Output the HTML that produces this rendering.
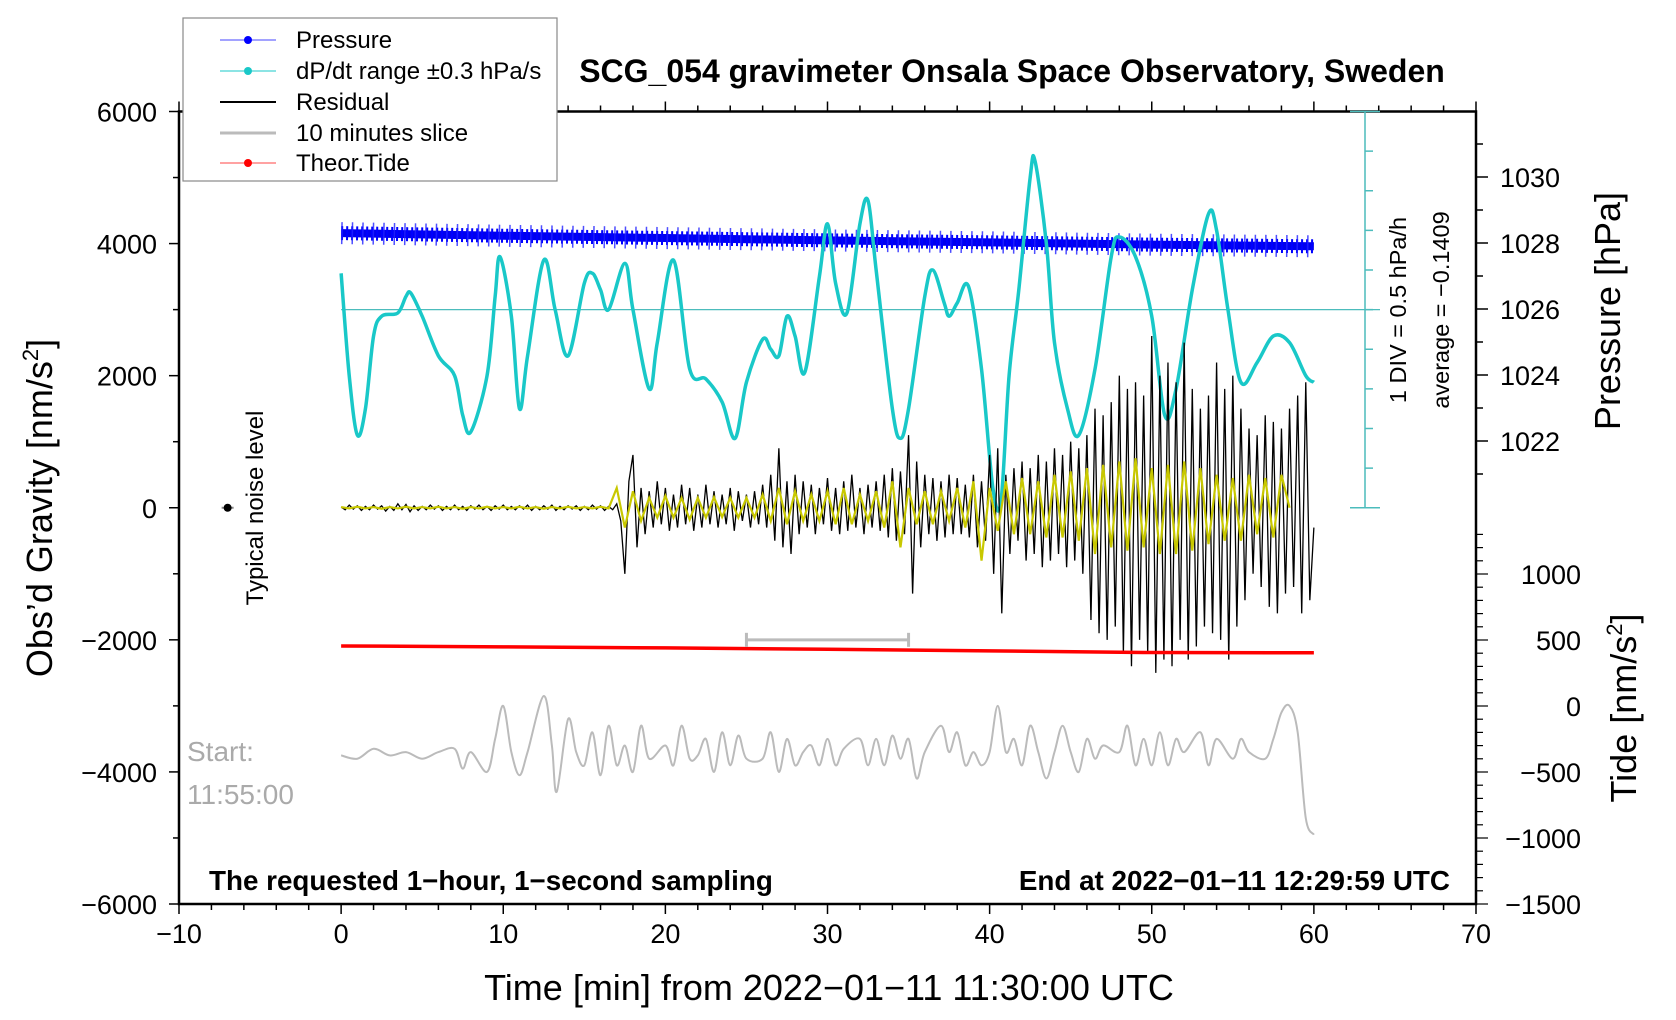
<!DOCTYPE html>
<html><head><meta charset="utf-8"><style>
html,body{margin:0;padding:0;background:#fff;}
svg{display:block;font-family:"Liberation Sans",sans-serif;}
</style></head><body>
<svg id="chart" width="1676" height="1020" viewBox="0 0 1676 1020" xmlns="http://www.w3.org/2000/svg">
<g id="layer"></g>
</svg>
<script>
// ---- data ----
const xTicks=[-10,0,10,20,30,40,50,60,70];
const yTicks=[6000,4000,2000,0,-2000,-4000,-6000];
const pTicks=[1022,1024,1026,1028,1030];
const tideTicks=[1000,500,0,-500,-1000,-1500];
const cyanT=[0,0.5,1,1.5,2,2.5,3.5,4,4.3,5,6,7,7.5,8,9,9.5,9.8,10.5,11,11.5,12.5,13.2,14,15,15.5,16,16.5,17.5,18,19,19.5,20.5,21.5,22.5,23.5,24.3,25,26,26.5,27,27.5,28,28.6,29.5,30,30.5,31.2,32,32.5,33,34,34.5,35,36,36.5,37.2,37.5,38,38.7,39.5,40.2,40.7,41.2,41.8,42.5,42.8,43.5,44,44.8,45.5,46.5,47.5,48,49,50,50.8,51.5,52.5,53.5,54,54.7,55.5,56.5,57.5,58.5,59.5,60];
const cyanV=[3550,2000,1100,1500,2600,2900,2950,3200,3250,2900,2300,2000,1400,1150,2000,3200,3800,2900,1500,2300,3750,3000,2300,3400,3550,3300,3000,3700,3000,1800,2500,3750,2100,1950,1600,1050,1900,2550,2400,2300,2900,2600,2050,3500,4300,3400,2950,4300,4650,3600,1500,1050,1500,3200,3600,3100,2900,3100,3350,2100,300,100,2000,3300,5000,5250,4000,2500,1500,1100,2100,3800,4100,3800,2900,1400,1800,3300,4450,4200,3000,1900,2200,2600,2500,2000,1900];
const pressT=[0,10,20,30,40,50,60];
const pressV=[1028.30,1028.22,1028.15,1028.08,1028.02,1027.95,1027.90];
const tideT=[0,10,20,30,40,50,60];
const tideV=[455,448,440,430,418,405,403];
const resStep=0.25;
const residual=[10,-30,40,-20,30,-40,20,-30,40,-20,30,-50,20,-40,60,-30,50,-60,30,-40,20,-30,40,-20,30,-40,20,-30,40,-30,20,-40,30,-20,40,-30,20,-40,30,-20,40,-30,20,-30,30,-20,40,-40,20,-30,30,-20,40,-40,20,-30,30,-20,30,-40,20,-30,40,-20,30,-40,20,-30,
60,-200,-1000,400,800,-600,300,-400,250,-300,400,-250,300,-350,200,-300,350,-250,300,-350,200,-300,350,-250,250,-300,200,-250,300,-350,250,-200,200,-300,250,-250,350,-300,500,-500,900,-600,400,-700,500,-400,400,-300,350,-400,300,-250,450,-350,300,-400,400,-350,500,-300,300,-400,350,-300,400,-350,500,-450,600,-500,550,-400,1100,-1300,700,-600,500,-400,450,-500,400,-450,500,-400,450,-400,350,-450,500,-600,400,-500,800,-1000,900,-1600,500,-700,600,-500,700,-800,600,-700,800,-900,700,-800,900,-700,800,-900,1000,-800,900,-1000,1100,-1700,1500,-1900,1400,-2000,1600,-1800,2000,-2200,1800,-2400,1900,-2000,1700,-2200,2600,-2500,2000,-2300,2200,-2400,1900,-2000,2500,-2300,1800,-2100,1500,-1800,1700,-1900,2200,-2000,1800,-2300,2000,-1800,1500,-1400,1200,-1000,1100,-1200,1400,-1500,1300,-1600,1200,-1300,1500,-1200,1700,-1600,1900,-1400,-300];
const yelStep=0.5;
const yellow=[10,-10,15,-10,10,-15,10,-10,15,-10,10,-10,15,-10,10,-15,10,-10,15,-10,10,-10,15,-10,10,-15,10,-10,15,-10,10,-10,15,-10,
300,-300,250,-200,150,-150,180,-150,150,-180,150,-150,160,-140,150,-150,150,-150,200,-200,300,-250,250,-200,200,-200,250,-250,300,-250,200,-200,250,-300,400,-600,300,-250,250,-250,250,-200,300,-300,400,-800,300,-350,400,-400,450,-400,400,-450,500,-450,550,-500,600,-700,650,-600,700,-650,750,-600,600,-700,650,-700,700,-650,600,-550,500,-500,450,-500,500,-400,450,-450,500,0];
const sliceT=[0,1,2,3,4,5,6,7,7.5,8,9,9.5,10,10.5,11,11.5,12.5,13,13.3,14,14.5,15,15.5,16,16.5,17,17.5,18,18.5,19,20,20.5,21,21.5,22,22.5,23,23.5,24,24.5,25,26,26.5,27,27.5,28,28.5,29,29.5,30,30.5,31,32,32.5,33,33.5,34,34.5,35,35.5,36,37,37.5,38,38.5,39,39.5,40,40.5,41,41.5,42,42.5,43,43.5,44,44.5,45,45.5,46,46.5,47,48,48.5,49,49.5,50,50.5,51,51.5,52,53,53.5,54,55,55.5,56,57,57.5,58,58.5,59,59.5,60];
const sliceV=[-3750,-3800,-3650,-3750,-3700,-3800,-3700,-3650,-3950,-3700,-4000,-3500,-3000,-3700,-4050,-3700,-2850,-3600,-4300,-3200,-3700,-3900,-3400,-4050,-3300,-3900,-3600,-4000,-3300,-3800,-3600,-3900,-3300,-3800,-3750,-3500,-4000,-3400,-3900,-3450,-3800,-3800,-3400,-4000,-3500,-3900,-3700,-3600,-3900,-3500,-3900,-3650,-3500,-3900,-3500,-3900,-3450,-3800,-3500,-4100,-3700,-3300,-3700,-3400,-3900,-3700,-3900,-3700,-3000,-3700,-3500,-3900,-3300,-3700,-4100,-3700,-3300,-3700,-4000,-3500,-3800,-3600,-3700,-3300,-3900,-3500,-3900,-3400,-3900,-3500,-3700,-3400,-3900,-3500,-3800,-3500,-3700,-3800,-3500,-3100,-3000,-3400,-4700,-4950];

// ---- axes ----
const L=179,R=1476,T=111.5,B=904;
const X=m=>L+(m+10)/80*(R-L);
const Y=v=>T+(6000-v)/12000*(B-T);
const P=h=>177+(1030-h)*33.0;
const TD=t=>574+(1000-t)/500*66;
const NS="http://www.w3.org/2000/svg";
const layer=document.getElementById('layer');
function mk(tag,attrs,parent){const e=document.createElementNS(NS,tag);for(const k in attrs)e.setAttribute(k,attrs[k]);(parent||layer).appendChild(e);return e;}
function txt(s,attrs,parent){const e=mk('text',attrs,parent);e.textContent=s;return e;}
function smooth(pts){let d='M'+pts[0][0]+','+pts[0][1];
 for(let i=0;i<pts.length-1;i++){const p0=pts[Math.max(0,i-1)],p1=pts[i],p2=pts[i+1],p3=pts[Math.min(pts.length-1,i+2)];
  const c1x=p1[0]+(p2[0]-p0[0])/6,c1y=p1[1]+(p2[1]-p0[1])/6,c2x=p2[0]-(p3[0]-p1[0])/6,c2y=p2[1]-(p3[1]-p1[1])/6;
  d+=' C'+c1x+','+c1y+' '+c2x+','+c2y+' '+p2[0]+','+p2[1];}
 return d;}

// frame
const frame=mk('rect',{x:L,y:T,width:R-L,height:B-T,fill:'none',stroke:'#000','stroke-width':2.5});



// x ticks
const gx=mk('g',{});


for(let m=-10;m<=70;m+=2){const maj=m%10===0;const l=maj?10:6;
 mk('line',{x1:X(m),x2:X(m),y1:B,y2:B+l,stroke:'#000','stroke-width':1.5},gx);
 mk('line',{x1:X(m),x2:X(m),y1:T,y2:T-l,stroke:'#000','stroke-width':1.5},gx);}
xTicks.forEach(m=>{const t=txt(String(m).replace('-','\u2212'),{x:X(m),y:B+39,'font-size':27,'text-anchor':'middle'},gx);
 
 });
// y ticks
const gy=mk('g',{});


for(let v=-6000;v<=6000;v+=1000){const l=v%2000===0?10:6;mk('line',{x1:L-l,x2:L,y1:Y(v),y2:Y(v),stroke:'#000','stroke-width':1.5},gy);}
yTicks.forEach(v=>{const t=txt(String(v).replace('-','\u2212'),{x:L-22,y:Y(v)+10,'font-size':27,'text-anchor':'end'},gy);
 
 });
// pressure axis
const gp=mk('g',{});


for(let h=1021;h<=1031;h++){const l=h%2===0?12:7;mk('line',{x1:R,x2:R+l,y1:P(h),y2:P(h),stroke:'#000','stroke-width':1.5},gp);}
pTicks.forEach(h=>{const t=txt(String(h),{x:R+24,y:P(h)+10,'font-size':27},gp);
 
 });
// tide axis
const gt=mk('g',{});


for(let t=-1500;t<=1300;t+=100){const l=t%500===0?12:7;mk('line',{x1:R,x2:R+l,y1:TD(t),y2:TD(t),stroke:'#000','stroke-width':1.2},gt);}
tideTicks.forEach(v=>{const t=txt(String(v).replace('-','\u2212'),{x:R+105,y:TD(v)+10,'font-size':27,'text-anchor':'end'},gt);
 
 });

// cyan scale bar
const sb=mk('g',{stroke:'#4cbcbc','stroke-width':1.5});


const sx=1365;
mk('line',{x1:sx,x2:sx,y1:T,y2:Y(0)},sb);
mk('line',{x1:sx-15,x2:sx+15,y1:Y(0),y2:Y(0)},sb);
mk('line',{x1:sx-15,x2:sx+15,y1:T,y2:T},sb);
for(let i=1;i<10;i++){const yy=T+(Y(0)-T)*i/10;mk('line',{x1:sx,x2:sx+8,y1:yy,y2:yy},sb);}
mk('line',{x1:X(0),x2:sx+15,y1:Y(3000),y2:Y(3000),'stroke-width':1.3},sb);

// pressure band
const pg=mk('g',{});


let pd=pressT.map((t,i)=>(i?'L':'M')+X(t)+','+P(pressV[i])).join(' ');
mk('path',{d:pd,fill:'none',stroke:'#0000ee','stroke-width':8},pg);
mk('path',{d:pd,fill:'none',stroke:'#0000ff','stroke-width':14,'stroke-dasharray':'2 3'},pg);
mk('path',{d:pd,fill:'none',stroke:'#2222ff','stroke-width':22,'stroke-dasharray':'1.5 9','opacity':0.8},pg);

// cyan dP/dt
const cg=mk('g',{});


mk('path',{d:smooth(cyanT.map((t,i)=>[X(t),Y(cyanV[i])])),fill:'none',stroke:'#19c8c8','stroke-width':3.5,'stroke-linejoin':'round'},cg);

// residual
const rg=mk('g',{});


let rd=residual.map((v,i)=>(i?'L':'M')+X(i*resStep)+','+Y(v)).join(' ');
mk('path',{d:rd,fill:'none',stroke:'#000','stroke-width':1.3},rg);
let yd=yellow.map((v,i)=>(i?'L':'M')+X(i*yelStep)+','+Y(v)).join(' ');
const yp=mk('path',{d:yd,fill:'none',stroke:'#c8c800','stroke-width':2.2},rg);



// tide
const tg=mk('g',{});


mk('path',{d:tideT.map((t,i)=>(i?'L':'M')+X(t)+','+TD(tideV[i])).join(' '),fill:'none',stroke:'#ff0000','stroke-width':3.5},tg);

// slice bracket
const br=mk('g',{stroke:'#bbb','stroke-width':3});


mk('line',{x1:X(25),x2:X(35),y1:Y(-2000),y2:Y(-2000)},br);
mk('line',{x1:X(25),x2:X(25),y1:Y(-2000)-7,y2:Y(-2000)+7},br);
mk('line',{x1:X(35),x2:X(35),y1:Y(-2000)-7,y2:Y(-2000)+7},br);

// slice
const slg=mk('g',{});


mk('path',{d:smooth(sliceT.map((t,i)=>[X(t),Y(sliceV[i])])),fill:'none',stroke:'#bbb','stroke-width':2,'stroke-linejoin':'round'},slg);

// noise level
const nz=mk('g',{});


mk('line',{x1:X(-7)-6,x2:X(-7)+6,y1:Y(0),y2:Y(0),stroke:'#888','stroke-width':2},nz);
mk('circle',{cx:X(-7),cy:Y(0),r:4,fill:'#000'},nz);
</script>
<svg style="position:absolute;left:0;top:0" width="1676" height="1020" xmlns="http://www.w3.org/2000/svg" font-family="Liberation Sans, sans-serif">
<text x="1012" y="82" font-size="32" font-weight="bold" text-anchor="middle">SCG_054 gravimeter Onsala Space Observatory, Sweden</text>
<text transform="translate(52,508) rotate(-90)" font-size="36" text-anchor="middle">Obs’d Gravity [nm/s<tspan font-size="22" dy="-14">2</tspan><tspan dy="14">]</tspan></text>
<text x="829" y="1000" font-size="36" text-anchor="middle">Time [min] from 2022−01−11 11:30:00 UTC</text>
<text transform="translate(1620,311) rotate(-90)" font-size="36" text-anchor="middle">Pressure [hPa]</text>
<text transform="translate(1636,708) rotate(-90)" font-size="36" text-anchor="middle">Tide [nm/s<tspan font-size="22" dy="-14">2</tspan><tspan dy="14">]</tspan></text>
<text transform="translate(263,508) rotate(-90)" font-size="24" text-anchor="middle">Typical noise level</text>
<text transform="translate(1406,310) rotate(-90)" font-size="23.5" text-anchor="middle">1 DIV = 0.5 hPa/h</text>
<text transform="translate(1449,310) rotate(-90)" font-size="23.5" text-anchor="middle">average = −0.1409</text>
<text x="187" y="761" font-size="28" fill="#aaa">Start:</text>
<text x="187" y="804" font-size="28" fill="#aaa">11:55:00</text>
<text x="209" y="890" font-size="27.8" font-weight="bold">The requested 1−hour, 1−second sampling</text>
<text x="1450" y="890" font-size="27.8" font-weight="bold" text-anchor="end">End at 2022−01−11 12:29:59 UTC</text>
<g>
<rect x="183" y="18" width="374" height="163" fill="#fff" stroke="#888" stroke-width="1.2"/>
<g><line x1="220" x2="276" y1="40" y2="40" stroke="#4444ff"/><circle cx="248" cy="40" r="4" fill="#0000ff"/><text x="296" y="48" font-size="24">Pressure</text></g>
<g><line x1="220" x2="276" y1="71" y2="71" stroke="#19c8c8"/><circle cx="248" cy="71" r="4" fill="#19c8c8"/><text x="296" y="79" font-size="24">dP/dt range ±0.3 hPa/s</text></g>
<g><line x1="220" x2="276" y1="102" y2="102" stroke="#000" stroke-width="2"/><text x="296" y="110" font-size="24">Residual</text></g>
<g><line x1="220" x2="276" y1="133" y2="133" stroke="#bbb" stroke-width="3"/><text x="296" y="141" font-size="24">10 minutes slice</text></g>
<g><line x1="220" x2="276" y1="163" y2="163" stroke="#ff4444"/><circle cx="248" cy="163" r="4" fill="#ff0000"/><text x="296" y="171" font-size="24">Theor.Tide</text></g>
</g>
</svg>
</body></html>
